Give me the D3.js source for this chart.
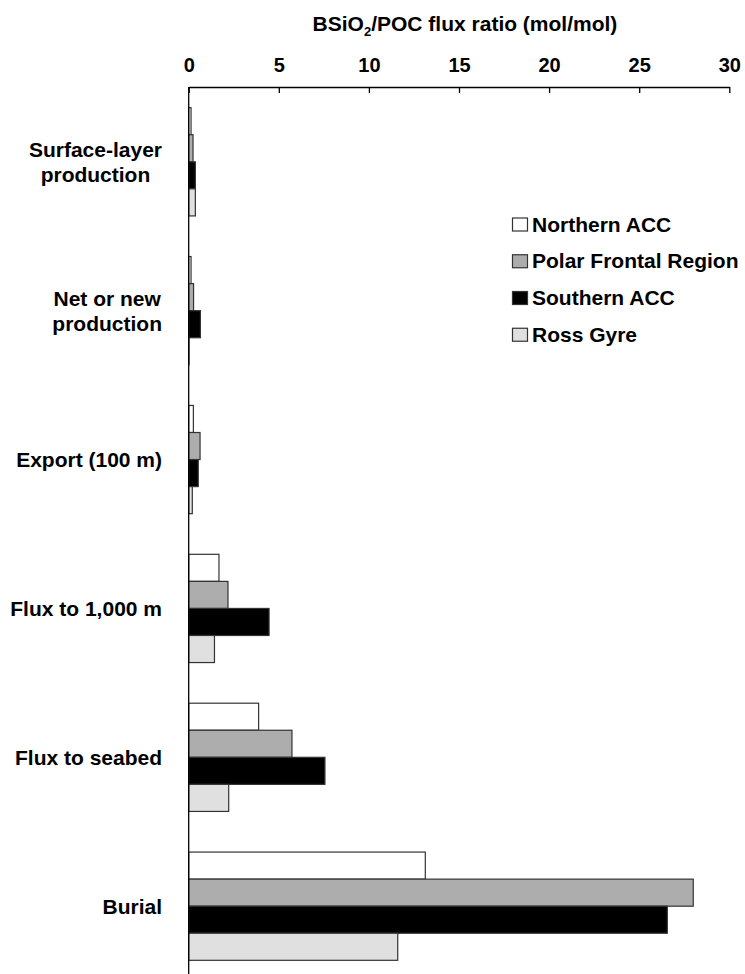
<!DOCTYPE html>
<html>
<head>
<meta charset="utf-8">
<script src="https://cdn.jsdelivr.net/npm/d3@7"></script>
<style>
  body { margin: 0; background: #fff; }
  svg text { font-family: "Liberation Sans", Arial, sans-serif; font-weight: bold; fill: #000; }
</style>
</head>
<body>
<div id="chart"></div>
<script>
// categories from top to bottom, "\n" = line break in the label
const categories = [
  "Surface-layer\nproduction",
  "Net or new\nproduction",
  "Export (100 m)",
  "Flux to 1,000 m",
  "Flux to seabed",
  "Burial"
];
const seriesNames = ["Northern ACC", "Polar Frontal Region", "Southern ACC", "Ross Gyre"];
const seriesColors = ["#ffffff", "#adadad", "#000000", "#e0e0e0"];

// BSiO2/POC ratios
const northernACC = [0.13, 0.13, 0.26, 1.68, 3.88, 13.13];
const polarFrontal = [0.24, 0.27, 0.63, 2.18, 5.73, 28.0];
const southernACC = [0.37, 0.65, 0.53, 4.46, 7.56, 26.56];
const rossGyre = [0.37, 0.02, 0.20, 1.43, 2.22, 11.6];
const seriesValues = [northernACC, polarFrontal, southernACC, rossGyre];

const xTicks = [0, 5, 10, 15, 20, 25, 30];

const width = 745;
const height = 974;
const axisY = 87;

const svg = d3.select("#chart").append("svg")
  .attr("width", width)
  .attr("height", height);

const x = d3.scaleLinear().domain([0, 30]).range([188.7, 729.3]);

const y = d3.scaleBand()
  .domain(categories)
  .range([axisY, axisY + 894])
  .paddingInner(0.273)
  .paddingOuter(0.139);

const ySub = d3.scaleBand()
  .domain(seriesNames)
  .range([0, y.bandwidth()]);

// bars
const rows = [];
categories.forEach((c, i) => {
  seriesNames.forEach((s, j) => {
    rows.push({ cat: c, series: s, value: seriesValues[j][i], color: seriesColors[j] });
  });
});

svg.append("g")
  .selectAll("rect")
  .data(rows)
  .join("rect")
  .attr("x", x(0))
  .attr("y", d => y(d.cat) + ySub(d.series))
  .attr("width", d => x(d.value) - x(0))
  .attr("height", ySub.bandwidth())
  .attr("fill", d => d.color)
  .attr("stroke", "#333")
  .attr("stroke-width", 1.2);

// top axis, ticks pointing down
const xAxis = d3.axisTop(x)
  .tickValues(xTicks)
  .tickSizeInner(-6)
  .tickSizeOuter(0)
  .tickPadding(15);

const gx = svg.append("g")
  .attr("transform", `translate(0,${axisY})`)
  .call(xAxis);
gx.select(".domain").attr("stroke", "#000").attr("stroke-width", 1.3);
gx.selectAll(".tick line").attr("stroke", "#000").attr("stroke-width", 1.3);
gx.selectAll(".tick text")
  .attr("font-size", 20)
  .attr("font-family", "Liberation Sans, Arial, sans-serif")
  .attr("font-weight", "bold")
  .attr("fill", "#000");

// vertical axis line
svg.append("line")
  .attr("x1", x(0)).attr("x2", x(0))
  .attr("y1", axisY).attr("y2", height)
  .attr("stroke", "#000")
  .attr("stroke-width", 1.3);

// title
const title = svg.append("text")
  .attr("x", 465)
  .attr("y", 31)
  .attr("text-anchor", "middle")
  .attr("font-size", 21);
title.append("tspan").text("BSiO");
title.append("tspan").text("2").attr("font-size", 13).attr("dy", 5);
title.append("tspan").text("/POC flux ratio (mol/mol)").attr("dy", -5);

// category labels: block right edge at 162, lines centred in the block
const labelRight = 162;
const lineGap = 25;
categories.forEach(c => {
  const lines = c.split("\n");
  const cy = y(c) + y.bandwidth() / 2;
  const t = svg.append("text")
    .attr("font-size", 21)
    .attr("text-anchor", "middle");
  const spans = lines.map((ln, k) => t.append("tspan")
    .text(ln)
    .attr("y", cy + 7.5 + (k - (lines.length - 1) / 2) * lineGap));
  const maxW = d3.max(spans, s => s.node().getComputedTextLength());
  spans.forEach(s => s.attr("x", labelRight - maxW / 2));
});

// legend
const legend = svg.append("g").attr("transform", "translate(512.5,218)");
const legendRow = d3.scaleBand().domain(seriesNames).range([0, 147]);
legend.selectAll("rect")
  .data(seriesNames)
  .join("rect")
  .attr("x", 0)
  .attr("y", d => legendRow(d))
  .attr("width", 15)
  .attr("height", 13)
  .attr("fill", (d, i) => seriesColors[i])
  .attr("stroke", "#333")
  .attr("stroke-width", 1.2);
legend.selectAll("text")
  .data(seriesNames)
  .join("text")
  .attr("x", 19.5)
  .attr("y", d => legendRow(d) + 13.5)
  .attr("font-size", 21)
  .text(d => d);
</script>
</body>
</html>
